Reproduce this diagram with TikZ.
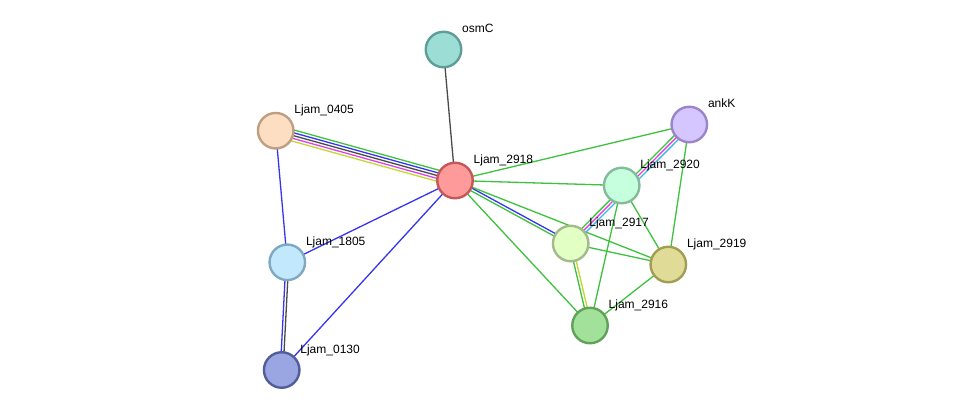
\documentclass[tikz,border=0pt]{standalone}
\usepackage{fontspec}
\setmainfont{Liberation Sans}
\usetikzlibrary{calc,backgrounds}
% node colours
\definecolor{fosmC}{HTML}{9CDDD6}\definecolor{dosmC}{HTML}{5E9E97}
\definecolor{fa}{HTML}{FDDEC3}\definecolor{da}{HTML}{BF9F82}
\definecolor{fb}{HTML}{FF9A9A}\definecolor{db}{HTML}{C25858}
\definecolor{fankK}{HTML}{D6C6FF}\definecolor{dankK}{HTML}{9A85C9}
\definecolor{fc}{HTML}{C6FFDE}\definecolor{dc}{HTML}{85BA9B}
\definecolor{fd}{HTML}{E2FFC4}\definecolor{dd}{HTML}{A3BA8C}
\definecolor{fe}{HTML}{E0DC98}\definecolor{de}{HTML}{A19D52}
\definecolor{ff}{HTML}{A2E19A}\definecolor{df}{HTML}{61A25A}
\definecolor{fg}{HTML}{C2E8FD}\definecolor{dg}{HTML}{80A9C1}
\definecolor{fh}{HTML}{9AA6E2}\definecolor{dh}{HTML}{525E9A}
% edge colours
\definecolor{enb}{HTML}{3DC23D}
\definecolor{eco}{HTML}{3535F0}
\definecolor{eex}{HTML}{4A4A4A}
\definecolor{eexp}{HTML}{E040E0}
\definecolor{edb}{HTML}{3CB8E0}
\definecolor{etm}{HTML}{C4D633}
\newcommand{\bundle}[3]{%
 \foreach \off/\col in {#3} {
  \draw[edge,\col] ($(#1.center)!\off pt!90:(#2.center)$) -- ($(#2.center)!\off pt!-90:(#1.center)$);
 }}

\begin{document}
\begin{tikzpicture}[x=1pt, y=-1pt,
 prot/.style 2 args={circle, fill=f#1, draw=d#1, line width=2.4pt, minimum size=35.5pt, inner sep=0pt,
   append after command={node[anchor=base west, inner sep=0pt, font=\fontsize{12}{14}\selectfont]
     at ($(\tikzlastnode.center)+(18.5,-17)$) {#2}}},
 edge/.style={line width=1.3pt}]
\useasboundingbox (0,0) rectangle (975,416);
\node[prot={osmC}{osmC}] (osmC) at (443.5,49.5) {};
\node[prot={a}{Ljam\_0405}] (l0405) at (275.7,130.7) {};
\node[prot={b}{Ljam\_2918}] (l2918) at (455,180.5) {};
\node[prot={ankK}{ankK}] (ankK) at (689.3,124.5) {};
\node[prot={c}{Ljam\_2920}] (l2920) at (621.7,185.5) {};
\node[prot={d}{Ljam\_2917}] (l2917) at (570.7,243.5) {};
\node[prot={e}{Ljam\_2919}] (l2919) at (668.3,264.5) {};
\node[prot={f}{Ljam\_2916}] (l2916) at (590,325.5) {};
\node[prot={g}{Ljam\_1805}] (l1805) at (287.3,262.3) {};
\node[prot={h}{Ljam\_0130}] (l0130) at (281.7,370) {};

\begin{scope}[on background layer]
\bundle{osmC}{l2918}{0/eex}
\bundle{l0405}{l2918}{5.6/enb, 2.8/eco, 0/eex, -2.8/eexp, -5.6/etm}
\bundle{l0405}{l1805}{0/eco}
\bundle{l1805}{l2918}{0/eco}
\bundle{l0130}{l2918}{0/eco}
\bundle{l1805}{l0130}{-1.4/eco, 1.4/eex}
\bundle{l2918}{ankK}{0/enb}
\bundle{l2918}{l2920}{0/enb}
\bundle{l2918}{l2917}{1.4/eco, -1.4/enb}
\bundle{l2918}{l2919}{0/enb}
\bundle{l2918}{l2916}{0/enb}
\bundle{ankK}{l2917}{-2.8/enb, 0/eexp, 2.8/edb}
\bundle{ankK}{l2919}{0/enb}
\bundle{l2920}{l2919}{0/enb}
\bundle{l2920}{l2916}{0/enb}
\bundle{l2917}{l2919}{0/enb}
\bundle{l2917}{l2916}{-1.4/enb, 1.4/etm}
\bundle{l2919}{l2916}{0/enb}
\end{scope}
\end{tikzpicture}
\end{document}
